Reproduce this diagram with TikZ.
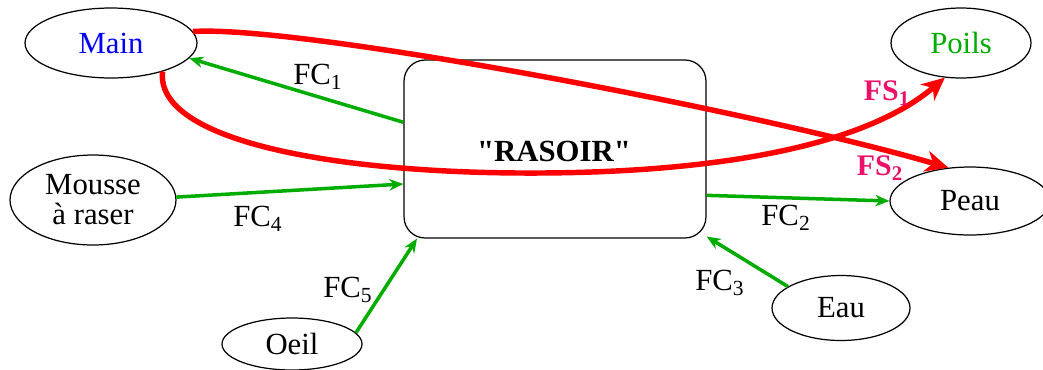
\documentclass[tikz,border=0pt]{standalone}
\usepackage{fontspec}
\setmainfont{Liberation Serif}[Ligatures=TeXOff]
\usepackage{tikz}
\usetikzlibrary{shapes.geometric,arrows.meta}
\definecolor{FCgreen}{RGB}{0,172,0}
\definecolor{FSred}{RGB}{255,0,0}
\definecolor{FSpink}{RGB}{236,16,104}
\newcommand{\fclabel}[3]{\node (#1) at (#2) {FC\textsubscript{#3}};}
\newcommand{\fslabel}[3]{\node[text=FSpink, font=\fontsize{17}{19}\selectfont\bfseries] (#1) at (#2) {FS\textsubscript{#3}};}
\tikzset{
  milieu/.style={ellipse, draw, line width=0.7pt, inner sep=0pt},
  fc/.style={draw=FCgreen, line width=2pt, -{Stealth[length=8pt,width=6.5pt,inset=2.5pt]}},
  fs/.style={draw=FSred, line width=3.1pt, -{Stealth[length=13pt,width=12pt,inset=4pt]}}
}
\begin{document}
\begin{tikzpicture}[x=0.02cm, y=-0.02cm, every node/.style={font=\fontsize{17.5}{20}\selectfont}]
\useasboundingbox (0,0) rectangle (1043,369);
% produit
\node[draw, rounded corners=12pt, line width=0.7pt, minimum width=6.04cm, minimum height=3.56cm] (box) at (555,149) {};
\node[font=\fontsize{17.5}{20}\selectfont\bfseries] (rasoir) at (554,151) {"RASOIR"};
% milieux exterieurs
\node[milieu, minimum width=3.44cm, minimum height=1.4cm, text=blue] (main) at (111,43) {Main};
\node[milieu, minimum width=3.32cm, minimum height=1.8cm, align=center] (mousse) at (93,200) {Mousse\\[-3pt]à raser};
\node[milieu, minimum width=2.8cm, minimum height=1.4cm, text=FCgreen] (poils) at (961,43) {Poils};
\node[milieu, minimum width=3.2cm, minimum height=1.36cm] (peau) at (970,201) {Peau};
\node[milieu, minimum width=2.76cm, minimum height=1.3cm] (eau) at (841,308) {Eau};
\node[milieu, minimum width=2.8cm, minimum height=1.04cm] (oeil) at (292,344) {Oeil};
% fonctions de contrainte
\draw[fc] (box.170) -- (main.-11);
\draw[fc] (mousse.2) -- (box.193);
\draw[fc] (box.-17) -- (peau.west);
\draw[fc] (eau.158) -- (box.-30);
\draw[fc] (oeil.10) -- (box.213);
\fclabel{fc1}{318,77}{1}
\fclabel{fc2}{786,218}{2}
\fclabel{fc3}{720,283}{3}
\fclabel{fc4}{258,219}{4}
\fclabel{fc5}{348,290}{5}
% fonctions de service
\draw[fs] (main.-29) .. controls (155,140) and (330,172) .. (520,173) .. controls (700,174) and (860,150) .. (poils.245);
\draw[fs] (main.8) .. controls (300,25) and (750,110) .. (peau.123);
\fslabel{fs1}{887,93}{1}
\fslabel{fs2}{880,168}{2}
\end{tikzpicture}
\end{document}
